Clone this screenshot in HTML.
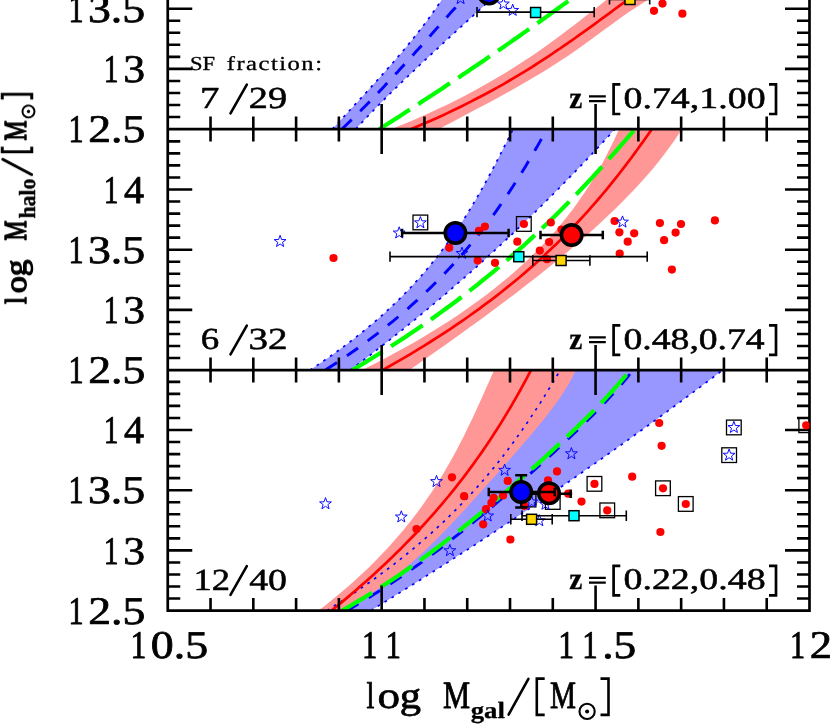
<!DOCTYPE html>
<html><head><meta charset="utf-8"><title>Halo mass vs galaxy mass</title>
<style>html,body{margin:0;padding:0;background:#fff;}body{width:831px;height:725px;overflow:hidden;font-family:"Liberation Serif",serif;}svg{display:block;}</style>
</head><body>
<svg width="831" height="725" viewBox="0 0 831 725">
<rect width="831" height="725" fill="#fff"/>
<defs>
<clipPath id="c0"><rect x="167.75" y="-5" width="641.75" height="134.10"/></clipPath>
<clipPath id="c1"><rect x="167.75" y="129.10" width="641.75" height="241.00"/></clipPath>
<clipPath id="c2"><rect x="167.75" y="370.10" width="641.75" height="240.50"/></clipPath>
</defs>
<g clip-path="url(#c0)">
<path d="M445.4,-6.0 L443.2,-2.5 L441.0,0.9 L438.6,4.4 L436.3,7.9 L433.9,11.3 L431.4,14.8 L428.9,18.2 L426.3,21.7 L423.7,25.2 L421.0,28.6 L418.3,32.1 L415.6,35.6 L412.8,39.0 L410.0,42.5 L407.1,46.0 L404.2,49.4 L401.3,52.9 L398.3,56.4 L395.4,59.8 L392.3,63.3 L389.3,66.7 L386.2,70.2 L383.2,73.7 L380.1,77.1 L377.0,80.6 L373.8,84.1 L370.7,87.5 L367.5,91.0 L364.3,94.5 L361.2,97.9 L358.0,101.4 L354.8,104.9 L351.6,108.3 L348.4,111.8 L345.2,115.2 L342.0,118.7 L338.8,122.2 L335.6,125.6 L332.4,129.1 L355.8,129.1 L359.0,125.6 L362.2,122.2 L365.5,118.7 L368.8,115.2 L372.1,111.8 L375.5,108.3 L378.8,104.9 L382.3,101.4 L385.7,97.9 L389.2,94.5 L392.7,91.0 L396.3,87.5 L399.8,84.1 L403.4,80.6 L407.0,77.1 L410.7,73.7 L414.3,70.2 L418.0,66.7 L421.6,63.3 L425.3,59.8 L429.1,56.4 L432.8,52.9 L436.5,49.4 L440.2,46.0 L444.0,42.5 L447.7,39.0 L451.5,35.6 L455.3,32.1 L459.0,28.6 L462.8,25.2 L466.6,21.7 L470.3,18.2 L474.1,14.8 L477.9,11.3 L481.6,7.9 L485.4,4.4 L489.1,0.9 L492.8,-2.5 L496.5,-6.0Z" fill="#9797ff"/>
<path d="M613.7,-6.0 L609.3,-2.5 L605.0,0.9 L600.6,4.4 L596.2,7.9 L591.8,11.3 L587.4,14.8 L583.0,18.2 L578.5,21.7 L574.0,25.2 L569.5,28.6 L564.9,32.1 L560.3,35.6 L555.6,39.0 L550.8,42.5 L546.0,46.0 L541.1,49.4 L536.1,52.9 L531.0,56.4 L525.8,59.8 L520.5,63.3 L515.1,66.7 L509.6,70.2 L504.0,73.7 L498.2,77.1 L492.3,80.6 L486.2,84.1 L480.0,87.5 L473.7,91.0 L467.2,94.5 L460.5,97.9 L453.6,101.4 L446.6,104.9 L439.3,108.3 L431.9,111.8 L424.3,115.2 L416.4,118.7 L408.4,122.2 L400.1,125.6 L391.6,129.1 L439.1,129.1 L445.5,125.6 L451.9,122.2 L458.4,118.7 L464.9,115.2 L471.5,111.8 L478.0,108.3 L484.5,104.9 L491.0,101.4 L497.5,97.9 L503.8,94.5 L510.1,91.0 L516.3,87.5 L522.4,84.1 L528.4,80.6 L534.3,77.1 L540.0,73.7 L545.7,70.2 L551.2,66.7 L556.6,63.3 L561.9,59.8 L567.1,56.4 L572.2,52.9 L577.2,49.4 L582.1,46.0 L586.9,42.5 L591.7,39.0 L596.4,35.6 L601.2,32.1 L605.9,28.6 L610.6,25.2 L615.3,21.7 L620.1,18.2 L625.0,14.8 L630.0,11.3 L635.2,7.9 L640.5,4.4 L646.0,0.9 L651.7,-2.5 L657.7,-6.0Z" fill="#ff9797"/>
<path d="M332.4,129.1 L334.5,126.8 L336.6,124.5 L338.7,122.2 L340.9,119.9 L343.0,117.7 L345.1,115.4 L347.2,113.1 L349.3,110.8 L351.4,108.5 L353.5,106.2 L355.6,103.9 L357.8,101.6 L359.9,99.3 L362.0,97.0 L364.1,94.8 L366.2,92.5 L368.3,90.2 L370.4,87.9 L372.4,85.6 L374.5,83.3 L376.6,81.0 L378.6,78.7 L380.7,76.4 L382.8,74.1 L384.8,71.9 L386.8,69.6 L388.8,67.3 L390.9,65.0 L392.9,62.7 L394.8,60.4 L396.8,58.1 L398.8,55.8 L400.7,53.5 L402.7,51.2 L404.6,49.0 L406.5,46.7 L408.4,44.4 L410.3,42.1 L412.2,39.8 L414.0,37.5 L415.8,35.2 L417.7,32.9 L419.5,30.6 L421.2,28.3 L423.0,26.1 L424.7,23.8 L426.5,21.5 L428.2,19.2 L429.8,16.9 L431.5,14.6 L433.1,12.3 L434.8,10.0 L436.4,7.7 L437.9,5.4 L439.5,3.2 L441.0,0.9 L442.5,-1.4 L444.0,-3.7 L445.4,-6.0" fill="none" stroke="#0000ff" stroke-width="1.7" stroke-dasharray="2.7 5.4" stroke-dashoffset="0" stroke-linecap="butt"/>
<path d="M355.8,129.1 L357.9,126.8 L360.0,124.5 L362.2,122.2 L364.3,119.9 L366.5,117.7 L368.6,115.4 L370.8,113.1 L373.1,110.8 L375.3,108.5 L377.5,106.2 L379.8,103.9 L382.0,101.6 L384.3,99.3 L386.6,97.0 L388.9,94.8 L391.2,92.5 L393.6,90.2 L395.9,87.9 L398.3,85.6 L400.6,83.3 L403.0,81.0 L405.4,78.7 L407.8,76.4 L410.2,74.1 L412.6,71.9 L415.0,69.6 L417.4,67.3 L419.8,65.0 L422.3,62.7 L424.7,60.4 L427.2,58.1 L429.6,55.8 L432.1,53.5 L434.5,51.2 L437.0,49.0 L439.5,46.7 L442.0,44.4 L444.4,42.1 L446.9,39.8 L449.4,37.5 L451.9,35.2 L454.4,32.9 L456.9,30.6 L459.4,28.3 L461.8,26.1 L464.3,23.8 L466.8,21.5 L469.3,19.2 L471.8,16.9 L474.3,14.6 L476.8,12.3 L479.3,10.0 L481.7,7.7 L484.2,5.4 L486.7,3.2 L489.2,0.9 L491.6,-1.4 L494.1,-3.7 L496.5,-6.0" fill="none" stroke="#0000ff" stroke-width="1.7" stroke-dasharray="2.7 5.4" stroke-dashoffset="0" stroke-linecap="butt"/>
<path d="M341.9,129.1 L344.3,126.8 L346.7,124.5 L349.0,122.2 L351.4,119.9 L353.7,117.7 L356.0,115.4 L358.3,113.1 L360.6,110.8 L362.8,108.5 L365.1,106.2 L367.3,103.9 L369.6,101.6 L371.8,99.3 L374.0,97.0 L376.2,94.8 L378.4,92.5 L380.5,90.2 L382.7,87.9 L384.9,85.6 L387.0,83.3 L389.2,81.0 L391.3,78.7 L393.4,76.4 L395.5,74.1 L397.6,71.9 L399.7,69.6 L401.8,67.3 L403.9,65.0 L406.0,62.7 L408.1,60.4 L410.2,58.1 L412.2,55.8 L414.3,53.5 L416.3,51.2 L418.4,49.0 L420.5,46.7 L422.5,44.4 L424.6,42.1 L426.6,39.8 L428.6,37.5 L430.7,35.2 L432.7,32.9 L434.8,30.6 L436.8,28.3 L438.9,26.1 L440.9,23.8 L443.0,21.5 L445.0,19.2 L447.0,16.9 L449.1,14.6 L451.1,12.3 L453.2,10.0 L455.3,7.7 L457.3,5.4 L459.4,3.2 L461.4,0.9 L463.5,-1.4 L465.6,-3.7 L467.7,-6.0" fill="none" stroke="#0000ff" stroke-width="2.9" stroke-dasharray="13.5 12" stroke-dashoffset="25.4" stroke-linecap="butt"/>
<path d="M379.4,129.1 L383.0,126.8 L386.6,124.5 L390.2,122.2 L393.7,119.9 L397.3,117.7 L400.9,115.4 L404.4,113.1 L408.0,110.8 L411.5,108.5 L415.0,106.2 L418.6,103.9 L422.1,101.6 L425.6,99.3 L429.1,97.0 L432.6,94.8 L436.0,92.5 L439.5,90.2 L443.0,87.9 L446.4,85.6 L449.9,83.3 L453.3,81.0 L456.7,78.7 L460.2,76.4 L463.6,74.1 L467.0,71.9 L470.4,69.6 L473.8,67.3 L477.2,65.0 L480.5,62.7 L483.9,60.4 L487.2,58.1 L490.6,55.8 L493.9,53.5 L497.3,51.2 L500.6,49.0 L503.9,46.7 L507.2,44.4 L510.5,42.1 L513.8,39.8 L517.1,37.5 L520.4,35.2 L523.6,32.9 L526.9,30.6 L530.1,28.3 L533.4,26.1 L536.6,23.8 L539.8,21.5 L543.0,19.2 L546.3,16.9 L549.5,14.6 L552.6,12.3 L555.8,10.0 L559.0,7.7 L562.2,5.4 L565.3,3.2 L568.5,0.9 L571.6,-1.4 L574.8,-3.7 L577.9,-6.0" fill="none" stroke="#00ff00" stroke-width="4.2" stroke-dasharray="38 10" stroke-dashoffset="1.8" stroke-linecap="butt"/>
<path d="M411.1,129.1 L416.6,126.8 L421.9,124.5 L427.2,122.2 L432.4,119.9 L437.5,117.7 L442.5,115.4 L447.4,113.1 L452.2,110.8 L457.0,108.5 L461.7,106.2 L466.3,103.9 L470.8,101.6 L475.3,99.3 L479.7,97.0 L484.1,94.8 L488.3,92.5 L492.5,90.2 L496.7,87.9 L500.8,85.6 L504.8,83.3 L508.7,81.0 L512.7,78.7 L516.5,76.4 L520.3,74.1 L524.1,71.9 L527.8,69.6 L531.5,67.3 L535.1,65.0 L538.7,62.7 L542.2,60.4 L545.7,58.1 L549.2,55.8 L552.6,53.5 L556.0,51.2 L559.4,49.0 L562.7,46.7 L566.0,44.4 L569.3,42.1 L572.6,39.8 L575.8,37.5 L579.1,35.2 L582.3,32.9 L585.5,30.6 L588.6,28.3 L591.8,26.1 L594.9,23.8 L598.1,21.5 L601.2,19.2 L604.4,16.9 L607.5,14.6 L610.6,12.3 L613.7,10.0 L616.9,7.7 L620.0,5.4 L623.1,3.2 L626.3,0.9 L629.4,-1.4 L632.6,-3.7 L635.8,-6.0" fill="none" stroke="#ff0000" stroke-width="2.7" stroke-linecap="butt"/>
</g>
<g clip-path="url(#c1)">
<path d="M513.1,129.1 L510.0,135.3 L506.9,141.5 L503.8,147.6 L500.6,153.8 L497.5,160.0 L494.3,166.2 L491.0,172.4 L487.7,178.5 L484.3,184.7 L480.8,190.9 L477.3,197.1 L473.7,203.3 L469.9,209.4 L466.1,215.6 L462.1,221.8 L458.1,228.0 L453.8,234.2 L449.5,240.3 L445.0,246.5 L440.3,252.7 L435.5,258.9 L430.5,265.0 L425.3,271.2 L419.9,277.4 L414.3,283.6 L408.5,289.8 L402.4,295.9 L396.2,302.1 L389.7,308.3 L383.0,314.5 L376.0,320.7 L368.7,326.8 L361.2,333.0 L353.4,339.2 L345.3,345.4 L336.9,351.6 L328.2,357.7 L319.2,363.9 L309.9,370.1 L350.2,370.1 L358.5,363.9 L366.6,357.7 L374.7,351.6 L382.6,345.4 L390.5,339.2 L398.3,333.0 L406.0,326.8 L413.6,320.7 L421.1,314.5 L428.6,308.3 L435.9,302.1 L443.2,295.9 L450.4,289.8 L457.6,283.6 L464.6,277.4 L471.6,271.2 L478.5,265.0 L485.4,258.9 L492.2,252.7 L498.9,246.5 L505.5,240.3 L512.1,234.2 L518.6,228.0 L525.0,221.8 L531.4,215.6 L537.7,209.4 L544.0,203.3 L550.2,197.1 L556.3,190.9 L562.4,184.7 L568.5,178.5 L574.5,172.4 L580.4,166.2 L586.3,160.0 L592.1,153.8 L597.9,147.6 L603.6,141.5 L609.3,135.3 L614.9,129.1Z" fill="#9797ff"/>
<path d="M619.1,129.1 L616.3,135.3 L613.4,141.5 L610.4,147.6 L607.3,153.8 L604.1,160.0 L600.7,166.2 L597.2,172.4 L593.5,178.5 L589.7,184.7 L585.7,190.9 L581.5,197.1 L577.2,203.3 L572.7,209.4 L568.0,215.6 L563.0,221.8 L557.9,228.0 L552.5,234.2 L546.9,240.3 L541.1,246.5 L535.0,252.7 L528.7,258.9 L522.1,265.0 L515.2,271.2 L508.0,277.4 L500.6,283.6 L492.9,289.8 L484.8,295.9 L476.5,302.1 L467.8,308.3 L458.9,314.5 L449.5,320.7 L439.9,326.8 L429.8,333.0 L419.5,339.2 L408.7,345.4 L397.6,351.6 L386.1,357.7 L374.2,363.9 L361.9,370.1 L409.2,370.1 L418.1,363.9 L426.9,357.7 L435.8,351.6 L444.5,345.4 L453.2,339.2 L461.9,333.0 L470.4,326.8 L478.9,320.7 L487.4,314.5 L495.7,308.3 L504.0,302.1 L512.2,295.9 L520.3,289.8 L528.2,283.6 L536.1,277.4 L543.9,271.2 L551.6,265.0 L559.1,258.9 L566.5,252.7 L573.8,246.5 L581.0,240.3 L588.0,234.2 L594.9,228.0 L601.6,221.8 L608.2,215.6 L614.6,209.4 L620.9,203.3 L627.0,197.1 L632.9,190.9 L638.7,184.7 L644.3,178.5 L649.7,172.4 L654.9,166.2 L659.9,160.0 L664.7,153.8 L669.3,147.6 L673.7,141.5 L677.9,135.3 L681.9,129.1Z" fill="#ff9797"/>
<path d="M309.9,370.1 L316.1,366.0 L322.2,361.9 L328.1,357.8 L333.9,353.8 L339.5,349.7 L345.0,345.6 L350.4,341.5 L355.7,337.4 L360.8,333.3 L365.8,329.3 L370.7,325.2 L375.5,321.1 L380.2,317.0 L384.7,312.9 L389.1,308.8 L393.5,304.7 L397.7,300.7 L401.8,296.6 L405.8,292.5 L409.8,288.4 L413.6,284.3 L417.3,280.2 L421.0,276.2 L424.5,272.1 L428.0,268.0 L431.4,263.9 L434.7,259.8 L438.0,255.7 L441.1,251.6 L444.2,247.6 L447.2,243.5 L450.2,239.4 L453.0,235.3 L455.9,231.2 L458.6,227.1 L461.3,223.0 L464.0,219.0 L466.6,214.9 L469.1,210.8 L471.6,206.7 L474.0,202.6 L476.4,198.5 L478.8,194.5 L481.1,190.4 L483.4,186.3 L485.7,182.2 L487.9,178.1 L490.1,174.0 L492.3,169.9 L494.4,165.9 L496.5,161.8 L498.6,157.7 L500.7,153.6 L502.8,149.5 L504.9,145.4 L506.9,141.4 L509.0,137.3 L511.0,133.2 L513.1,129.1" fill="none" stroke="#0000ff" stroke-width="1.7" stroke-dasharray="2.7 5.4" stroke-dashoffset="0" stroke-linecap="butt"/>
<path d="M350.2,370.1 L355.7,366.0 L361.1,361.9 L366.5,357.8 L371.8,353.8 L377.1,349.7 L382.3,345.6 L387.6,341.5 L392.7,337.4 L397.9,333.3 L403.0,329.3 L408.0,325.2 L413.1,321.1 L418.1,317.0 L423.0,312.9 L427.9,308.8 L432.8,304.7 L437.7,300.7 L442.5,296.6 L447.3,292.5 L452.0,288.4 L456.7,284.3 L461.4,280.2 L466.1,276.2 L470.7,272.1 L475.3,268.0 L479.8,263.9 L484.3,259.8 L488.8,255.7 L493.3,251.6 L497.7,247.6 L502.1,243.5 L506.5,239.4 L510.9,235.3 L515.2,231.2 L519.5,227.1 L523.7,223.0 L528.0,219.0 L532.2,214.9 L536.3,210.8 L540.5,206.7 L544.6,202.6 L548.7,198.5 L552.8,194.5 L556.9,190.4 L560.9,186.3 L564.9,182.2 L568.9,178.1 L572.8,174.0 L576.8,169.9 L580.7,165.9 L584.6,161.8 L588.4,157.7 L592.3,153.6 L596.1,149.5 L599.9,145.4 L603.7,141.4 L607.5,137.3 L611.2,133.2 L614.9,129.1" fill="none" stroke="#0000ff" stroke-width="1.7" stroke-dasharray="2.7 5.4" stroke-dashoffset="0" stroke-linecap="butt"/>
<path d="M325.3,370.1 L331.6,366.0 L337.8,361.9 L343.8,357.8 L349.8,353.8 L355.6,349.7 L361.3,345.6 L366.9,341.5 L372.3,337.4 L377.7,333.3 L382.9,329.3 L388.0,325.2 L393.1,321.1 L398.0,317.0 L402.8,312.9 L407.6,308.8 L412.2,304.7 L416.7,300.7 L421.2,296.6 L425.5,292.5 L429.8,288.4 L434.0,284.3 L438.1,280.2 L442.1,276.2 L446.0,272.1 L449.8,268.0 L453.6,263.9 L457.3,259.8 L460.9,255.7 L464.5,251.6 L467.9,247.6 L471.3,243.5 L474.7,239.4 L478.0,235.3 L481.2,231.2 L484.3,227.1 L487.4,223.0 L490.5,219.0 L493.5,214.9 L496.4,210.8 L499.3,206.7 L502.1,202.6 L504.9,198.5 L507.6,194.5 L510.3,190.4 L513.0,186.3 L515.6,182.2 L518.2,178.1 L520.8,174.0 L523.3,169.9 L525.8,165.9 L528.2,161.8 L530.7,157.7 L533.1,153.6 L535.4,149.5 L537.8,145.4 L540.1,141.4 L542.5,137.3 L544.8,133.2 L547.1,129.1" fill="none" stroke="#0000ff" stroke-width="2.9" stroke-dasharray="13.5 12" stroke-dashoffset="25.0" stroke-linecap="butt"/>
<path d="M352.3,370.1 L359.2,366.0 L366.0,361.9 L372.6,357.8 L379.2,353.8 L385.7,349.7 L392.1,345.6 L398.4,341.5 L404.6,337.4 L410.8,333.3 L416.8,329.3 L422.8,325.2 L428.6,321.1 L434.4,317.0 L440.1,312.9 L445.7,308.8 L451.3,304.7 L456.7,300.7 L462.1,296.6 L467.4,292.5 L472.7,288.4 L477.8,284.3 L482.9,280.2 L488.0,276.2 L492.9,272.1 L497.8,268.0 L502.6,263.9 L507.4,259.8 L512.1,255.7 L516.7,251.6 L521.3,247.6 L525.9,243.5 L530.3,239.4 L534.7,235.3 L539.1,231.2 L543.4,227.1 L547.7,223.0 L551.9,219.0 L556.0,214.9 L560.2,210.8 L564.2,206.7 L568.3,202.6 L572.2,198.5 L576.2,194.5 L580.1,190.4 L584.0,186.3 L587.8,182.2 L591.6,178.1 L595.4,174.0 L599.1,169.9 L602.8,165.9 L606.5,161.8 L610.1,157.7 L613.8,153.6 L617.4,149.5 L620.9,145.4 L624.5,141.4 L628.0,137.3 L631.5,133.2 L635.0,129.1" fill="none" stroke="#00ff00" stroke-width="4.2" stroke-dasharray="38 10" stroke-dashoffset="2.5" stroke-linecap="butt"/>
<path d="M382.5,370.1 L389.8,366.0 L397.0,361.9 L404.0,357.8 L410.9,353.8 L417.7,349.7 L424.4,345.6 L430.9,341.5 L437.3,337.4 L443.6,333.3 L449.8,329.3 L455.9,325.2 L461.9,321.1 L467.8,317.0 L473.5,312.9 L479.2,308.8 L484.7,304.7 L490.2,300.7 L495.5,296.6 L500.8,292.5 L505.9,288.4 L511.0,284.3 L516.0,280.2 L520.8,276.2 L525.6,272.1 L530.3,268.0 L535.0,263.9 L539.5,259.8 L544.0,255.7 L548.3,251.6 L552.6,247.6 L556.9,243.5 L561.0,239.4 L565.1,235.3 L569.1,231.2 L573.1,227.1 L576.9,223.0 L580.7,219.0 L584.5,214.9 L588.2,210.8 L591.8,206.7 L595.4,202.6 L598.9,198.5 L602.3,194.5 L605.8,190.4 L609.1,186.3 L612.4,182.2 L615.7,178.1 L618.9,174.0 L622.1,169.9 L625.2,165.9 L628.3,161.8 L631.4,157.7 L634.4,153.6 L637.4,149.5 L640.3,145.4 L643.3,141.4 L646.2,137.3 L649.0,133.2 L651.9,129.1" fill="none" stroke="#ff0000" stroke-width="2.7" stroke-linecap="butt"/>
</g>
<g clip-path="url(#c2)">
<path d="M560.2,370.1 L556.6,376.3 L552.9,382.4 L549.1,388.6 L545.3,394.8 L541.5,400.9 L537.5,407.1 L533.5,413.3 L529.4,419.4 L525.2,425.6 L521.0,431.8 L516.6,437.9 L512.1,444.1 L507.5,450.3 L502.7,456.4 L497.9,462.6 L492.9,468.8 L487.8,474.9 L482.5,481.1 L477.0,487.3 L471.5,493.4 L465.7,499.6 L459.8,505.8 L453.7,511.9 L447.4,518.1 L440.9,524.3 L434.3,530.4 L427.4,536.6 L420.3,542.8 L413.0,548.9 L405.5,555.1 L397.8,561.3 L389.8,567.4 L381.6,573.6 L373.1,579.8 L364.4,585.9 L355.4,592.1 L346.2,598.3 L336.7,604.4 L326.9,610.6 L370.8,610.6 L380.8,604.4 L390.8,598.3 L400.7,592.1 L410.6,585.9 L420.4,579.8 L430.1,573.6 L439.8,567.4 L449.4,561.3 L459.0,555.1 L468.5,548.9 L478.0,542.8 L487.4,536.6 L496.7,530.4 L506.0,524.3 L515.2,518.1 L524.4,511.9 L533.6,505.8 L542.7,499.6 L551.7,493.4 L560.7,487.3 L569.6,481.1 L578.5,474.9 L587.3,468.8 L596.1,462.6 L604.9,456.4 L613.6,450.3 L622.2,444.1 L630.8,437.9 L639.4,431.8 L647.9,425.6 L656.4,419.4 L664.8,413.3 L673.2,407.1 L681.5,400.9 L689.8,394.8 L698.1,388.6 L706.3,382.4 L714.5,376.3 L722.6,370.1Z" fill="#9797ff"/>
<path d="M494.2,370.1 L491.4,376.3 L488.7,382.4 L485.9,388.6 L483.2,394.8 L480.4,400.9 L477.6,407.1 L474.8,413.3 L471.9,419.4 L468.9,425.6 L465.9,431.8 L462.9,437.9 L459.7,444.1 L456.5,450.3 L453.1,456.4 L449.7,462.6 L446.1,468.8 L442.5,474.9 L438.7,481.1 L434.8,487.3 L430.7,493.4 L426.5,499.6 L422.2,505.8 L417.6,511.9 L413.0,518.1 L408.1,524.3 L403.1,530.4 L397.8,536.6 L392.4,542.8 L386.8,548.9 L381.0,555.1 L375.0,561.3 L368.8,567.4 L362.3,573.6 L355.6,579.8 L348.7,585.9 L341.5,592.1 L334.1,598.3 L326.5,604.4 L318.6,610.6 L343.7,610.6 L354.3,604.4 L364.2,598.3 L373.5,592.1 L382.3,585.9 L390.6,579.8 L398.5,573.6 L406.0,567.4 L413.1,561.3 L420.0,555.1 L426.6,548.9 L433.0,542.8 L439.2,536.6 L445.2,530.4 L451.1,524.3 L456.9,518.1 L462.6,511.9 L468.3,505.8 L473.8,499.6 L479.4,493.4 L484.9,487.3 L490.4,481.1 L495.9,474.9 L501.4,468.8 L506.9,462.6 L512.3,456.4 L517.7,450.3 L523.0,444.1 L528.3,437.9 L533.6,431.8 L538.7,425.6 L543.7,419.4 L548.6,413.3 L553.2,407.1 L557.7,400.9 L562.0,394.8 L566.0,388.6 L569.6,382.4 L572.9,376.3 L575.8,370.1Z" fill="#ff9797"/>
<path d="M326.9,610.6 L333.4,606.5 L339.8,602.4 L346.0,598.4 L352.2,594.3 L358.2,590.2 L364.1,586.1 L369.9,582.1 L375.6,578.0 L381.1,573.9 L386.6,569.8 L392.0,565.8 L397.2,561.7 L402.4,557.6 L407.4,553.5 L412.4,549.5 L417.2,545.4 L422.0,541.3 L426.7,537.2 L431.3,533.2 L435.7,529.1 L440.1,525.0 L444.5,520.9 L448.7,516.8 L452.8,512.8 L456.9,508.7 L460.9,504.6 L464.8,500.5 L468.7,496.5 L472.4,492.4 L476.1,488.3 L479.7,484.2 L483.3,480.2 L486.8,476.1 L490.2,472.0 L493.6,467.9 L496.9,463.9 L500.1,459.8 L503.3,455.7 L506.4,451.6 L509.5,447.5 L512.5,443.5 L515.5,439.4 L518.4,435.3 L521.3,431.2 L524.2,427.2 L527.0,423.1 L529.7,419.0 L532.4,414.9 L535.1,410.9 L537.7,406.8 L540.4,402.7 L542.9,398.6 L545.5,394.6 L548.0,390.5 L550.5,386.4 L552.9,382.3 L555.4,378.3 L557.8,374.2 L560.2,370.1" fill="none" stroke="#0000ff" stroke-width="1.7" stroke-dasharray="2.7 5.4" stroke-dashoffset="0" stroke-linecap="butt"/>
<path d="M370.8,610.6 L377.4,606.5 L384.0,602.4 L390.6,598.4 L397.2,594.3 L403.7,590.2 L410.2,586.1 L416.7,582.1 L423.2,578.0 L429.6,573.9 L436.0,569.8 L442.4,565.8 L448.8,561.7 L455.1,557.6 L461.4,553.5 L467.7,549.5 L474.0,545.4 L480.2,541.3 L486.4,537.2 L492.6,533.2 L498.8,529.1 L504.9,525.0 L511.0,520.9 L517.1,516.8 L523.2,512.8 L529.2,508.7 L535.3,504.6 L541.3,500.5 L547.3,496.5 L553.2,492.4 L559.2,488.3 L565.1,484.2 L571.0,480.2 L576.8,476.1 L582.7,472.0 L588.5,467.9 L594.3,463.9 L600.1,459.8 L605.9,455.7 L611.6,451.6 L617.4,447.5 L623.1,443.5 L628.8,439.4 L634.4,435.3 L640.1,431.2 L645.7,427.2 L651.3,423.1 L656.9,419.0 L662.5,414.9 L668.0,410.9 L673.6,406.8 L679.1,402.7 L684.6,398.6 L690.1,394.6 L695.5,390.5 L701.0,386.4 L706.4,382.3 L711.8,378.3 L717.2,374.2 L722.6,370.1" fill="none" stroke="#0000ff" stroke-width="1.7" stroke-dasharray="2.7 5.4" stroke-dashoffset="0" stroke-linecap="butt"/>
<path d="M346.9,610.6 L354.0,606.5 L360.8,602.4 L367.6,598.4 L374.1,594.3 L380.6,590.2 L386.9,586.1 L393.1,582.1 L399.1,578.0 L405.1,573.9 L410.9,569.8 L416.7,565.8 L422.4,561.7 L427.9,557.6 L433.4,553.5 L438.9,549.5 L444.2,545.4 L449.5,541.3 L454.7,537.2 L459.9,533.2 L465.0,529.1 L470.0,525.0 L475.0,520.9 L480.0,516.8 L484.9,512.8 L489.8,508.7 L494.6,504.6 L499.4,500.5 L504.2,496.5 L508.9,492.4 L513.6,488.3 L518.3,484.2 L523.0,480.2 L527.6,476.1 L532.2,472.0 L536.7,467.9 L541.2,463.9 L545.7,459.8 L550.2,455.7 L554.6,451.6 L559.0,447.5 L563.4,443.5 L567.7,439.4 L572.0,435.3 L576.3,431.2 L580.5,427.2 L584.7,423.1 L588.8,419.0 L592.9,414.9 L596.9,410.9 L600.8,406.8 L604.7,402.7 L608.6,398.6 L612.3,394.6 L616.0,390.5 L619.6,386.4 L623.1,382.3 L626.5,378.3 L629.9,374.2 L633.1,370.1" fill="none" stroke="#0000ff" stroke-width="2.9" stroke-dasharray="13.5 12" stroke-dashoffset="0.2" stroke-linecap="butt"/>
<path d="M342.1,610.6 L349.2,606.5 L356.1,602.4 L362.9,598.4 L369.6,594.3 L376.1,590.2 L382.5,586.1 L388.7,582.1 L394.8,578.0 L400.8,573.9 L406.7,569.8 L412.5,565.8 L418.3,561.7 L423.9,557.6 L429.4,553.5 L434.9,549.5 L440.3,545.4 L445.6,541.3 L450.8,537.2 L456.0,533.2 L461.1,529.1 L466.2,525.0 L471.2,520.9 L476.2,516.8 L481.2,512.8 L486.1,508.7 L490.9,504.6 L495.7,500.5 L500.5,496.5 L505.3,492.4 L510.0,488.3 L514.7,484.2 L519.3,480.2 L523.9,476.1 L528.5,472.0 L533.1,467.9 L537.7,463.9 L542.2,459.8 L546.6,455.7 L551.1,451.6 L555.5,447.5 L559.9,443.5 L564.2,439.4 L568.5,435.3 L572.8,431.2 L577.1,427.2 L581.2,423.1 L585.4,419.0 L589.5,414.9 L593.5,410.9 L597.5,406.8 L601.4,402.7 L605.3,398.6 L609.0,394.6 L612.8,390.5 L616.4,386.4 L619.9,382.3 L623.4,378.3 L626.8,374.2 L630.0,370.1" fill="none" stroke="#00ff00" stroke-width="4.2" stroke-dasharray="38 10" stroke-dashoffset="3.1" stroke-linecap="butt"/>
<path d="M331.5,610.6 L336.5,606.5 L341.5,602.4 L346.4,598.4 L351.2,594.3 L355.9,590.2 L360.6,586.1 L365.3,582.1 L369.8,578.0 L374.3,573.9 L378.7,569.8 L383.1,565.8 L387.4,561.7 L391.7,557.6 L395.8,553.5 L400.0,549.5 L404.0,545.4 L408.0,541.3 L412.0,537.2 L415.9,533.2 L419.7,529.1 L423.5,525.0 L427.2,520.9 L430.8,516.8 L434.4,512.8 L438.0,508.7 L441.5,504.6 L444.9,500.5 L448.3,496.5 L451.6,492.4 L454.9,488.3 L458.1,484.2 L461.3,480.2 L464.4,476.1 L467.5,472.0 L470.5,467.9 L473.5,463.9 L476.4,459.8 L479.3,455.7 L482.2,451.6 L485.0,447.5 L487.7,443.5 L490.4,439.4 L493.1,435.3 L495.7,431.2 L498.3,427.2 L500.9,423.1 L503.4,419.0 L505.9,414.9 L508.3,410.9 L510.8,406.8 L513.1,402.7 L515.5,398.6 L517.8,394.6 L520.1,390.5 L522.3,386.4 L524.5,382.3 L526.7,378.3 L528.9,374.2 L531.0,370.1" fill="none" stroke="#ff0000" stroke-width="2.7" stroke-linecap="butt"/>
</g>
<g stroke="#000" stroke-width="2.7" fill="none" stroke-linecap="butt">
<path d="M167.75,-5 V610.60 H809.50 V-5" stroke-linejoin="miter"/>
<path d="M167.75,129.10 H809.50 M167.75,370.10 H809.50"/>
<path d="M210.53,116.60 V141.60 M210.53,357.60 V382.60 M210.53,598.10 V610.60 M253.32,116.60 V141.60 M253.32,357.60 V382.60 M253.32,598.10 V610.60 M296.10,116.60 V141.60 M296.10,357.60 V382.60 M296.10,598.10 V610.60 M338.88,116.60 V141.60 M338.88,357.60 V382.60 M338.88,598.10 V610.60 M381.67,104.10 V154.10 M381.67,345.10 V395.10 M381.67,585.60 V610.60 M424.45,116.60 V141.60 M424.45,357.60 V382.60 M424.45,598.10 V610.60 M467.23,116.60 V141.60 M467.23,357.60 V382.60 M467.23,598.10 V610.60 M510.02,116.60 V141.60 M510.02,357.60 V382.60 M510.02,598.10 V610.60 M552.80,116.60 V141.60 M552.80,357.60 V382.60 M552.80,598.10 V610.60 M595.58,104.10 V154.10 M595.58,345.10 V395.10 M595.58,585.60 V610.60 M638.37,116.60 V141.60 M638.37,357.60 V382.60 M638.37,598.10 V610.60 M681.15,116.60 V141.60 M681.15,357.60 V382.60 M681.15,598.10 V610.60 M723.93,116.60 V141.60 M723.93,357.60 V382.60 M723.93,598.10 V610.60 M766.72,116.60 V141.60 M766.72,357.60 V382.60 M766.72,598.10 V610.60 M167.75,117.06 H180.25 M809.50,117.06 H797.00 M167.75,105.02 H180.25 M809.50,105.02 H797.00 M167.75,92.98 H180.25 M809.50,92.98 H797.00 M167.75,80.94 H180.25 M809.50,80.94 H797.00 M167.75,68.90 H192.25 M809.50,68.90 H785.00 M167.75,56.86 H180.25 M809.50,56.86 H797.00 M167.75,44.82 H180.25 M809.50,44.82 H797.00 M167.75,32.78 H180.25 M809.50,32.78 H797.00 M167.75,20.74 H180.25 M809.50,20.74 H797.00 M167.75,8.70 H192.25 M809.50,8.70 H785.00 M167.75,-3.34 H180.25 M809.50,-3.34 H797.00 M167.75,358.06 H180.25 M809.50,358.06 H797.00 M167.75,346.02 H180.25 M809.50,346.02 H797.00 M167.75,333.98 H180.25 M809.50,333.98 H797.00 M167.75,321.94 H180.25 M809.50,321.94 H797.00 M167.75,309.90 H192.25 M809.50,309.90 H785.00 M167.75,297.86 H180.25 M809.50,297.86 H797.00 M167.75,285.82 H180.25 M809.50,285.82 H797.00 M167.75,273.78 H180.25 M809.50,273.78 H797.00 M167.75,261.74 H180.25 M809.50,261.74 H797.00 M167.75,249.70 H192.25 M809.50,249.70 H785.00 M167.75,237.66 H180.25 M809.50,237.66 H797.00 M167.75,225.62 H180.25 M809.50,225.62 H797.00 M167.75,213.58 H180.25 M809.50,213.58 H797.00 M167.75,201.54 H180.25 M809.50,201.54 H797.00 M167.75,189.50 H192.25 M809.50,189.50 H785.00 M167.75,177.46 H180.25 M809.50,177.46 H797.00 M167.75,165.42 H180.25 M809.50,165.42 H797.00 M167.75,153.38 H180.25 M809.50,153.38 H797.00 M167.75,141.34 H180.25 M809.50,141.34 H797.00 M167.75,598.56 H180.25 M809.50,598.56 H797.00 M167.75,586.52 H180.25 M809.50,586.52 H797.00 M167.75,574.48 H180.25 M809.50,574.48 H797.00 M167.75,562.44 H180.25 M809.50,562.44 H797.00 M167.75,550.40 H192.25 M809.50,550.40 H785.00 M167.75,538.36 H180.25 M809.50,538.36 H797.00 M167.75,526.32 H180.25 M809.50,526.32 H797.00 M167.75,514.28 H180.25 M809.50,514.28 H797.00 M167.75,502.24 H180.25 M809.50,502.24 H797.00 M167.75,490.20 H192.25 M809.50,490.20 H785.00 M167.75,478.16 H180.25 M809.50,478.16 H797.00 M167.75,466.12 H180.25 M809.50,466.12 H797.00 M167.75,454.08 H180.25 M809.50,454.08 H797.00 M167.75,442.04 H180.25 M809.50,442.04 H797.00 M167.75,430.00 H192.25 M809.50,430.00 H785.00 M167.75,417.96 H180.25 M809.50,417.96 H797.00 M167.75,405.92 H180.25 M809.50,405.92 H797.00 M167.75,393.88 H180.25 M809.50,393.88 H797.00 M167.75,381.84 H180.25 M809.50,381.84 H797.00" stroke-width="2.6"/>
</g>
<g clip-path="url(#c0)">
<path d="M460.6,-7.5 L462.1,-3.3 L466.5,-3.2 L463.0,-0.5 L464.2,3.7 L460.6,1.2 L457.0,3.7 L458.2,-0.5 L454.7,-3.2 L459.1,-3.3Z" fill="none" stroke="#0000ff" stroke-width="0.95" stroke-linejoin="miter"/>
<circle cx="662.5" cy="3.6" r="4.1" fill="#ff0000"/>
<circle cx="654.0" cy="10.8" r="4.1" fill="#ff0000"/>
<circle cx="682.4" cy="13.7" r="4.1" fill="#ff0000"/>
<path d="M503.4,-2.2 L504.9,2.0 L509.3,2.1 L505.8,4.8 L507.0,9.0 L503.4,6.5 L499.8,9.0 L501.0,4.8 L497.5,2.1 L501.9,2.0Z" fill="none" stroke="#0000ff" stroke-width="0.95" stroke-linejoin="miter"/>
<path d="M512.7,4.2 L514.2,8.4 L518.6,8.5 L515.1,11.2 L516.3,15.4 L512.7,12.9 L509.1,15.4 L510.3,11.2 L506.8,8.5 L511.2,8.4Z" fill="none" stroke="#0000ff" stroke-width="0.95" stroke-linejoin="miter"/>
<path d="M477.0,12.1 H594.2 M477.0,6.9 V17.3 M594.2,6.9 V17.3" stroke="#000" stroke-width="1.6" fill="none"/>
<rect x="530.6" y="7.5" width="10.0" height="10.0" fill="#00ffff" stroke="#000" stroke-width="1.5"/>
<path d="M609.5,-0.6 H649.7 M609.5,-5.8 V4.6 M649.7,-5.8 V4.6" stroke="#000" stroke-width="1.6" fill="none"/>
<rect x="625.0" y="-5.5" width="10.0" height="10.0" fill="#ffd700" stroke="#000" stroke-width="1.5"/>
<circle cx="489.0" cy="-6.5" r="10.2" fill="#0000ff" stroke="#000" stroke-width="3.6"/>
</g>
<g clip-path="url(#c1)">
<circle cx="333.5" cy="258.0" r="4.1" fill="#ff0000"/>
<circle cx="484.9" cy="226.5" r="4.1" fill="#ff0000"/>
<circle cx="478.9" cy="230.9" r="4.1" fill="#ff0000"/>
<circle cx="449.2" cy="247.8" r="4.1" fill="#ff0000"/>
<circle cx="550.8" cy="222.5" r="4.1" fill="#ff0000"/>
<circle cx="517.3" cy="241.7" r="4.1" fill="#ff0000"/>
<circle cx="549.1" cy="242.0" r="4.1" fill="#ff0000"/>
<circle cx="539.8" cy="250.6" r="4.1" fill="#ff0000"/>
<circle cx="547.0" cy="259.2" r="4.1" fill="#ff0000"/>
<circle cx="477.7" cy="260.6" r="4.1" fill="#ff0000"/>
<circle cx="495.0" cy="262.8" r="4.1" fill="#ff0000"/>
<circle cx="561.5" cy="229.5" r="4.1" fill="#ff0000"/>
<circle cx="614.6" cy="221.0" r="4.1" fill="#ff0000"/>
<circle cx="619.4" cy="232.3" r="4.1" fill="#ff0000"/>
<circle cx="634.2" cy="233.3" r="4.1" fill="#ff0000"/>
<circle cx="627.7" cy="241.7" r="4.1" fill="#ff0000"/>
<circle cx="619.7" cy="253.6" r="4.1" fill="#ff0000"/>
<circle cx="659.9" cy="223.1" r="4.1" fill="#ff0000"/>
<circle cx="681.0" cy="224.0" r="4.1" fill="#ff0000"/>
<circle cx="675.6" cy="232.6" r="4.1" fill="#ff0000"/>
<circle cx="664.1" cy="240.2" r="4.1" fill="#ff0000"/>
<circle cx="714.9" cy="220.4" r="4.1" fill="#ff0000"/>
<circle cx="671.9" cy="269.6" r="4.1" fill="#ff0000"/>
<rect x="516.5" y="216.6" width="14.7" height="14.7" fill="none" stroke="#000" stroke-width="1.3"/>
<circle cx="523.9" cy="224.0" r="4.1" fill="#ff0000"/>
<path d="M280.1,235.3 L281.6,239.5 L286.0,239.6 L282.5,242.3 L283.7,246.5 L280.1,244.0 L276.5,246.5 L277.7,242.3 L274.2,239.6 L278.6,239.5Z" fill="none" stroke="#0000ff" stroke-width="0.95" stroke-linejoin="miter"/>
<path d="M399.2,226.8 L400.7,231.0 L405.1,231.1 L401.6,233.8 L402.8,238.0 L399.2,235.5 L395.6,238.0 L396.8,233.8 L393.3,231.1 L397.7,231.0Z" fill="none" stroke="#0000ff" stroke-width="0.95" stroke-linejoin="miter"/>
<path d="M622.5,215.9 L624.0,220.1 L628.4,220.2 L624.9,222.9 L626.1,227.1 L622.5,224.6 L618.9,227.1 L620.1,222.9 L616.6,220.2 L621.0,220.1Z" fill="none" stroke="#0000ff" stroke-width="0.95" stroke-linejoin="miter"/>
<path d="M462.0,247.2 L463.5,251.4 L467.9,251.5 L464.4,254.2 L465.6,258.4 L462.0,255.9 L458.4,258.4 L459.6,254.2 L456.1,251.5 L460.5,251.4Z" fill="none" stroke="#0000ff" stroke-width="0.95" stroke-linejoin="miter"/>
<rect x="413.0" y="215.1" width="14.7" height="14.7" fill="none" stroke="#000" stroke-width="1.3"/>
<path d="M420.4,216.6 L421.9,220.8 L426.3,220.9 L422.8,223.6 L424.0,227.8 L420.4,225.3 L416.8,227.8 L418.0,223.6 L414.5,220.9 L418.9,220.8Z" fill="none" stroke="#0000ff" stroke-width="0.95" stroke-linejoin="miter"/>
<path d="M390.0,256.6 H647.2 M390.0,251.4 V261.8 M647.2,251.4 V261.8" stroke="#000" stroke-width="1.6" fill="none"/>
<path d="M532.8,260.5 H589.9 M532.8,255.3 V265.7 M589.9,255.3 V265.7" stroke="#000" stroke-width="1.6" fill="none"/>
<rect x="513.8" y="251.7" width="10.0" height="10.0" fill="#00ffff" stroke="#000" stroke-width="1.5"/>
<rect x="556.1" y="255.5" width="10.0" height="10.0" fill="#ffd700" stroke="#000" stroke-width="1.5"/>
<path d="M540.5,235.0 H602.8 M540.5,230.8 V239.2 M602.8,230.8 V239.2" stroke="#000" stroke-width="2.5" fill="none"/>
<circle cx="571.6" cy="235.1" r="10.2" fill="#ff0000" stroke="#000" stroke-width="3.6"/>
<path d="M402.1,233.0 H508.6 M402.1,228.8 V237.2 M508.6,228.8 V237.2" stroke="#000" stroke-width="2.5" fill="none"/>
<circle cx="455.4" cy="233.0" r="10.2" fill="#0000ff" stroke="#000" stroke-width="3.6"/>
</g>
<g clip-path="url(#c2)">
<circle cx="452.0" cy="477.3" r="4.1" fill="#ff0000"/>
<circle cx="464.1" cy="496.2" r="4.1" fill="#ff0000"/>
<circle cx="416.5" cy="529.0" r="4.1" fill="#ff0000"/>
<circle cx="507.7" cy="480.9" r="4.1" fill="#ff0000"/>
<circle cx="503.1" cy="495.5" r="4.1" fill="#ff0000"/>
<circle cx="493.6" cy="497.8" r="4.1" fill="#ff0000"/>
<circle cx="491.4" cy="502.9" r="4.1" fill="#ff0000"/>
<circle cx="486.0" cy="509.2" r="4.1" fill="#ff0000"/>
<circle cx="483.2" cy="524.3" r="4.1" fill="#ff0000"/>
<circle cx="510.4" cy="539.5" r="4.1" fill="#ff0000"/>
<circle cx="557.0" cy="471.4" r="4.1" fill="#ff0000"/>
<circle cx="548.0" cy="480.3" r="4.1" fill="#ff0000"/>
<circle cx="581.5" cy="501.6" r="4.1" fill="#ff0000"/>
<circle cx="568.2" cy="493.7" r="4.1" fill="#ff0000"/>
<circle cx="524.5" cy="505.8" r="4.1" fill="#ff0000"/>
<circle cx="632.2" cy="476.7" r="4.1" fill="#ff0000"/>
<circle cx="659.2" cy="423.0" r="4.1" fill="#ff0000"/>
<circle cx="661.6" cy="445.8" r="4.1" fill="#ff0000"/>
<circle cx="660.4" cy="532.0" r="4.1" fill="#ff0000"/>
<rect x="587.1" y="476.5" width="14.7" height="14.7" fill="none" stroke="#000" stroke-width="1.3"/>
<circle cx="594.5" cy="483.9" r="4.1" fill="#ff0000"/>
<rect x="599.9" y="503.0" width="14.7" height="14.7" fill="none" stroke="#000" stroke-width="1.3"/>
<circle cx="607.2" cy="510.4" r="4.1" fill="#ff0000"/>
<rect x="655.6" y="480.9" width="14.7" height="14.7" fill="none" stroke="#000" stroke-width="1.3"/>
<circle cx="663.0" cy="488.3" r="4.1" fill="#ff0000"/>
<rect x="678.4" y="496.6" width="14.7" height="14.7" fill="none" stroke="#000" stroke-width="1.3"/>
<circle cx="685.8" cy="504.0" r="4.1" fill="#ff0000"/>
<rect x="798.9" y="417.9" width="14.7" height="14.7" fill="none" stroke="#000" stroke-width="1.3"/>
<circle cx="806.2" cy="425.3" r="4.1" fill="#ff0000"/>
<rect x="726.5" y="420.1" width="14.7" height="14.7" fill="none" stroke="#000" stroke-width="1.3"/>
<path d="M733.9,421.3 L735.4,425.5 L739.8,425.6 L736.3,428.3 L737.5,432.5 L733.9,430.0 L730.3,432.5 L731.5,428.3 L728.0,425.6 L732.4,425.5Z" fill="none" stroke="#0000ff" stroke-width="0.95" stroke-linejoin="miter"/>
<rect x="721.8" y="447.8" width="14.7" height="14.7" fill="none" stroke="#000" stroke-width="1.3"/>
<path d="M729.1,449.0 L730.6,453.2 L735.0,453.3 L731.5,456.0 L732.7,460.2 L729.1,457.7 L725.5,460.2 L726.7,456.0 L723.2,453.3 L727.6,453.2Z" fill="none" stroke="#0000ff" stroke-width="0.95" stroke-linejoin="miter"/>
<rect x="521.2" y="492.2" width="14.7" height="14.7" fill="none" stroke="#000" stroke-width="1.3"/>
<rect x="545.4" y="494.6" width="14.7" height="14.7" fill="none" stroke="#000" stroke-width="1.3"/>
<path d="M325.5,497.6 L327.0,501.8 L331.4,501.9 L327.9,504.6 L329.1,508.8 L325.5,506.3 L321.9,508.8 L323.1,504.6 L319.6,501.9 L324.0,501.8Z" fill="none" stroke="#0000ff" stroke-width="0.95" stroke-linejoin="miter"/>
<path d="M401.3,510.8 L402.8,515.0 L407.2,515.1 L403.7,517.8 L404.9,522.0 L401.3,519.5 L397.7,522.0 L398.9,517.8 L395.4,515.1 L399.8,515.0Z" fill="none" stroke="#0000ff" stroke-width="0.95" stroke-linejoin="miter"/>
<path d="M436.5,475.4 L438.0,479.6 L442.4,479.7 L438.9,482.4 L440.1,486.6 L436.5,484.1 L432.9,486.6 L434.1,482.4 L430.6,479.7 L435.0,479.6Z" fill="none" stroke="#0000ff" stroke-width="0.95" stroke-linejoin="miter"/>
<path d="M449.9,544.5 L451.4,548.7 L455.8,548.8 L452.3,551.5 L453.5,555.7 L449.9,553.2 L446.3,555.7 L447.5,551.5 L444.0,548.8 L448.4,548.7Z" fill="none" stroke="#0000ff" stroke-width="0.95" stroke-linejoin="miter"/>
<path d="M487.7,509.8 L489.2,514.0 L493.6,514.1 L490.1,516.8 L491.3,521.0 L487.7,518.5 L484.1,521.0 L485.3,516.8 L481.8,514.1 L486.2,514.0Z" fill="none" stroke="#0000ff" stroke-width="0.95" stroke-linejoin="miter"/>
<path d="M504.6,464.1 L506.1,468.3 L510.5,468.4 L507.0,471.1 L508.2,475.3 L504.6,472.8 L501.0,475.3 L502.2,471.1 L498.7,468.4 L503.1,468.3Z" fill="none" stroke="#0000ff" stroke-width="0.95" stroke-linejoin="miter"/>
<path d="M571.4,447.6 L572.9,451.8 L577.3,451.9 L573.8,454.6 L575.0,458.8 L571.4,456.3 L567.8,458.8 L569.0,454.6 L565.5,451.9 L569.9,451.8Z" fill="none" stroke="#0000ff" stroke-width="0.95" stroke-linejoin="miter"/>
<path d="M531.6,495.8 L533.1,500.0 L537.5,500.1 L534.0,502.8 L535.2,507.0 L531.6,504.5 L528.0,507.0 L529.2,502.8 L525.7,500.1 L530.1,500.0Z" fill="none" stroke="#0000ff" stroke-width="0.95" stroke-linejoin="miter"/>
<path d="M545.5,498.1 L547.0,502.3 L551.4,502.4 L547.9,505.1 L549.1,509.3 L545.5,506.8 L541.9,509.3 L543.1,505.1 L539.6,502.4 L544.0,502.3Z" fill="none" stroke="#0000ff" stroke-width="0.95" stroke-linejoin="miter"/>
<path d="M539.3,514.6 L540.8,518.8 L545.2,518.9 L541.7,521.6 L542.9,525.8 L539.3,523.3 L535.7,525.8 L536.9,521.6 L533.4,518.9 L537.8,518.8Z" fill="none" stroke="#0000ff" stroke-width="0.95" stroke-linejoin="miter"/>
<path d="M522.0,515.7 H626.3 M522.0,510.5 V520.9 M626.3,510.5 V520.9" stroke="#000" stroke-width="1.6" fill="none"/>
<path d="M510.8,519.3 H552.2 M510.8,514.1 V524.5 M552.2,514.1 V524.5" stroke="#000" stroke-width="1.6" fill="none"/>
<rect x="569.0" y="510.7" width="10.0" height="10.0" fill="#00ffff" stroke="#000" stroke-width="1.5"/>
<rect x="526.6" y="514.3" width="10.0" height="10.0" fill="#ffd700" stroke="#000" stroke-width="1.5"/>
<path d="M527.0,493.8 H570.7 M527.0,489.6 V498.0 M570.7,489.6 V498.0" stroke="#000" stroke-width="2.5" fill="none"/>
<circle cx="549.0" cy="493.3" r="10.2" fill="#ff0000" stroke="#000" stroke-width="3.6"/>
<path d="M488.8,492.0 H554.7 M488.8,487.8 V496.2 M554.7,487.8 V496.2" stroke="#000" stroke-width="2.5" fill="none"/>
<path d="M521.2,475.2 V507.4 M515.2,475.2 H527.2 M515.2,507.4 H527.2" stroke="#000" stroke-width="2.5" fill="none"/>
<circle cx="521.2" cy="492.0" r="10.2" fill="#0000ff" stroke="#000" stroke-width="3.6"/>
</g>
<g opacity="0.999" text-rendering="geometricPrecision">
<text transform="matrix(0.3029 0 0 0.3926 68.47 142.31)" font-family="Liberation Serif, serif" font-size="100" font-weight="normal" stroke="#000" stroke-width="2.30" stroke-linejoin="round">1</text>
<text transform="matrix(0.4567 0 0 0.3926 88.15 142.31)" font-family="Liberation Serif, serif" font-size="100" font-weight="normal" stroke="#000" stroke-width="1.88" stroke-linejoin="round">2.5</text>
<text transform="matrix(0.2943 0 0 0.3926 103.75 82.11)" font-family="Liberation Serif, serif" font-size="100" font-weight="normal" stroke="#000" stroke-width="2.33" stroke-linejoin="round">1</text>
<text transform="matrix(0.4366 0 0 0.3926 123.32 82.11)" font-family="Liberation Serif, serif" font-size="100" font-weight="normal" stroke="#000" stroke-width="1.93" stroke-linejoin="round">3</text>
<text transform="matrix(0.3029 0 0 0.3926 68.47 21.91)" font-family="Liberation Serif, serif" font-size="100" font-weight="normal" stroke="#000" stroke-width="2.30" stroke-linejoin="round">1</text>
<text transform="matrix(0.4586 0 0 0.3926 87.91 21.91)" font-family="Liberation Serif, serif" font-size="100" font-weight="normal" stroke="#000" stroke-width="1.88" stroke-linejoin="round">3.5</text>
<text transform="matrix(0.3029 0 0 0.3926 68.47 383.31)" font-family="Liberation Serif, serif" font-size="100" font-weight="normal" stroke="#000" stroke-width="2.30" stroke-linejoin="round">1</text>
<text transform="matrix(0.4567 0 0 0.3926 88.15 383.31)" font-family="Liberation Serif, serif" font-size="100" font-weight="normal" stroke="#000" stroke-width="1.88" stroke-linejoin="round">2.5</text>
<text transform="matrix(0.2943 0 0 0.3926 103.75 323.11)" font-family="Liberation Serif, serif" font-size="100" font-weight="normal" stroke="#000" stroke-width="2.33" stroke-linejoin="round">1</text>
<text transform="matrix(0.4366 0 0 0.3926 123.32 323.11)" font-family="Liberation Serif, serif" font-size="100" font-weight="normal" stroke="#000" stroke-width="1.93" stroke-linejoin="round">3</text>
<text transform="matrix(0.3029 0 0 0.3926 68.47 262.91)" font-family="Liberation Serif, serif" font-size="100" font-weight="normal" stroke="#000" stroke-width="2.30" stroke-linejoin="round">1</text>
<text transform="matrix(0.4586 0 0 0.3926 87.91 262.91)" font-family="Liberation Serif, serif" font-size="100" font-weight="normal" stroke="#000" stroke-width="1.88" stroke-linejoin="round">3.5</text>
<text transform="matrix(0.2943 0 0 0.3926 103.75 202.71)" font-family="Liberation Serif, serif" font-size="100" font-weight="normal" stroke="#000" stroke-width="2.33" stroke-linejoin="round">1</text>
<text transform="matrix(0.4022 0 0 0.3926 123.90 202.71)" font-family="Liberation Serif, serif" font-size="100" font-weight="normal" stroke="#000" stroke-width="2.01" stroke-linejoin="round">4</text>
<text transform="matrix(0.3029 0 0 0.3926 68.47 623.81)" font-family="Liberation Serif, serif" font-size="100" font-weight="normal" stroke="#000" stroke-width="2.30" stroke-linejoin="round">1</text>
<text transform="matrix(0.4567 0 0 0.3926 88.15 623.81)" font-family="Liberation Serif, serif" font-size="100" font-weight="normal" stroke="#000" stroke-width="1.88" stroke-linejoin="round">2.5</text>
<text transform="matrix(0.2943 0 0 0.3926 103.75 563.61)" font-family="Liberation Serif, serif" font-size="100" font-weight="normal" stroke="#000" stroke-width="2.33" stroke-linejoin="round">1</text>
<text transform="matrix(0.4366 0 0 0.3926 123.32 563.61)" font-family="Liberation Serif, serif" font-size="100" font-weight="normal" stroke="#000" stroke-width="1.93" stroke-linejoin="round">3</text>
<text transform="matrix(0.3029 0 0 0.3926 68.47 503.41)" font-family="Liberation Serif, serif" font-size="100" font-weight="normal" stroke="#000" stroke-width="2.30" stroke-linejoin="round">1</text>
<text transform="matrix(0.4586 0 0 0.3926 87.91 503.41)" font-family="Liberation Serif, serif" font-size="100" font-weight="normal" stroke="#000" stroke-width="1.88" stroke-linejoin="round">3.5</text>
<text transform="matrix(0.2943 0 0 0.3926 103.75 443.21)" font-family="Liberation Serif, serif" font-size="100" font-weight="normal" stroke="#000" stroke-width="2.33" stroke-linejoin="round">1</text>
<text transform="matrix(0.4022 0 0 0.3926 123.90 443.21)" font-family="Liberation Serif, serif" font-size="100" font-weight="normal" stroke="#000" stroke-width="2.01" stroke-linejoin="round">4</text>
<text transform="matrix(0.3171 0 0 0.3926 130.55 657.71)" font-family="Liberation Serif, serif" font-size="100" font-weight="normal" stroke="#000" stroke-width="2.25" stroke-linejoin="round">1</text>
<text transform="matrix(0.4590 0 0 0.3926 150.76 657.71)" font-family="Liberation Serif, serif" font-size="100" font-weight="normal" stroke="#000" stroke-width="1.88" stroke-linejoin="round">0.5</text>
<text transform="matrix(0.3057 0 0 0.3926 361.95 657.71)" font-family="Liberation Serif, serif" font-size="100" font-weight="normal" stroke="#000" stroke-width="2.29" stroke-linejoin="round">1</text>
<text transform="matrix(0.3086 0 0 0.3926 385.62 657.71)" font-family="Liberation Serif, serif" font-size="100" font-weight="normal" stroke="#000" stroke-width="2.28" stroke-linejoin="round">1</text>
<text transform="matrix(0.3171 0 0 0.3926 558.15 657.71)" font-family="Liberation Serif, serif" font-size="100" font-weight="normal" stroke="#000" stroke-width="2.25" stroke-linejoin="round">1</text>
<text transform="matrix(0.3086 0 0 0.3926 582.32 657.71)" font-family="Liberation Serif, serif" font-size="100" font-weight="normal" stroke="#000" stroke-width="2.28" stroke-linejoin="round">1</text>
<text transform="matrix(0.4527 0 0 0.3926 602.16 657.71)" font-family="Liberation Serif, serif" font-size="100" font-weight="normal" stroke="#000" stroke-width="1.89" stroke-linejoin="round">.5</text>
<text transform="matrix(0.3029 0 0 0.3926 790.07 657.71)" font-family="Liberation Serif, serif" font-size="100" font-weight="normal" stroke="#000" stroke-width="2.30" stroke-linejoin="round">1</text>
<text transform="matrix(0.4450 0 0 0.3926 809.80 657.71)" font-family="Liberation Serif, serif" font-size="100" font-weight="normal" stroke="#000" stroke-width="1.91" stroke-linejoin="round">2</text>
<text transform="matrix(0.2950 0 0 0.3087 569.36 107.75)" font-family="Liberation Serif, serif" font-size="100" font-weight="bold" stroke="#000" stroke-width="0.99" stroke-linejoin="round">z</text>
<path d="M589,96.3 H605.8 M589,101.1 H605.8" stroke="#000" stroke-width="2.3"/>
<path d="M620.3,84.3 H613.6 V114.0 H620.3" fill="none" stroke="#000" stroke-width="2.7"/>
<text transform="matrix(0.3790 0 0 0.2993 623.48 107.60)" font-family="Liberation Serif, serif" font-size="100" font-weight="normal" stroke="#000" stroke-width="1.77" stroke-linejoin="round">0.74,1.00</text>
<path d="M769.0,84.3 H776.0 V114.0 H769.0" fill="none" stroke="#000" stroke-width="2.7"/>
<text transform="matrix(0.2950 0 0 0.3087 569.36 348.75)" font-family="Liberation Serif, serif" font-size="100" font-weight="bold" stroke="#000" stroke-width="0.99" stroke-linejoin="round">z</text>
<path d="M589,337.3 H605.8 M589,342.1 H605.8" stroke="#000" stroke-width="2.3"/>
<path d="M620.3,325.4 H613.6 V354.9 H620.3" fill="none" stroke="#000" stroke-width="2.7"/>
<text transform="matrix(0.3765 0 0 0.2993 623.49 348.60)" font-family="Liberation Serif, serif" font-size="100" font-weight="normal" stroke="#000" stroke-width="1.78" stroke-linejoin="round">0.48,0.74</text>
<path d="M769.0,325.4 H776.0 V354.9 H769.0" fill="none" stroke="#000" stroke-width="2.7"/>
<text transform="matrix(0.2950 0 0 0.3087 569.36 589.25)" font-family="Liberation Serif, serif" font-size="100" font-weight="bold" stroke="#000" stroke-width="0.99" stroke-linejoin="round">z</text>
<path d="M589,577.8 H605.8 M589,582.6 H605.8" stroke="#000" stroke-width="2.3"/>
<path d="M620.3,565.9 H613.6 V595.4 H620.3" fill="none" stroke="#000" stroke-width="2.7"/>
<text transform="matrix(0.3790 0 0 0.2993 623.48 589.10)" font-family="Liberation Serif, serif" font-size="100" font-weight="normal" stroke="#000" stroke-width="1.77" stroke-linejoin="round">0.22,0.48</text>
<path d="M769.0,565.9 H776.0 V595.4 H769.0" fill="none" stroke="#000" stroke-width="2.7"/>
<text transform="matrix(0.2252 0 0 0.1978 189.91 69.73)" font-family="Liberation Serif, serif" font-size="100" font-weight="normal" stroke="#000" stroke-width="1.65" stroke-linejoin="round">SF</text>
<text transform="matrix(0.2463 0 0 0.1978 226.74 69.73)" font-family="Liberation Serif, serif" font-size="100" font-weight="normal" stroke="#000" stroke-width="1.58" stroke-linejoin="round" letter-spacing="6.00">fraction:</text>
<text transform="matrix(0.3877 0 0 0.3052 199.98 108.19)" font-family="Liberation Serif, serif" font-size="100" font-weight="normal" stroke="#000" stroke-width="1.73" stroke-linejoin="round">7</text>
<path d="M230.5,113.4 L246.8,84.6" stroke="#000" stroke-width="2.6" stroke-linecap="round"/>
<text transform="matrix(0.3825 0 0 0.3052 248.78 108.19)" font-family="Liberation Serif, serif" font-size="100" font-weight="normal" stroke="#000" stroke-width="1.74" stroke-linejoin="round">29</text>
<text transform="matrix(0.3694 0 0 0.3052 200.84 349.19)" font-family="Liberation Serif, serif" font-size="100" font-weight="normal" stroke="#000" stroke-width="1.78" stroke-linejoin="round">6</text>
<path d="M230.5,354.4 L246.8,325.6" stroke="#000" stroke-width="2.6" stroke-linecap="round"/>
<text transform="matrix(0.3911 0 0 0.3052 248.54 349.19)" font-family="Liberation Serif, serif" font-size="100" font-weight="normal" stroke="#000" stroke-width="1.72" stroke-linejoin="round">32</text>
<text transform="matrix(0.3649 0 0 0.3052 193.62 589.69)" font-family="Liberation Serif, serif" font-size="100" font-weight="normal" stroke="#000" stroke-width="1.79" stroke-linejoin="round">12</text>
<path d="M230.5,594.9 L246.8,566.1" stroke="#000" stroke-width="2.6" stroke-linecap="round"/>
<text transform="matrix(0.3787 0 0 0.3052 249.14 589.69)" font-family="Liberation Serif, serif" font-size="100" font-weight="normal" stroke="#000" stroke-width="1.75" stroke-linejoin="round">40</text>
<text transform="matrix(0.2833 0 0 0.3727 366.53 708.40)" font-family="Liberation Serif, serif" font-size="100" font-weight="normal" stroke="#000" stroke-width="2.44" stroke-linejoin="round">l</text>
<text transform="matrix(0.4524 0 0 0.3727 377.49 708.40)" font-family="Liberation Serif, serif" font-size="100" font-weight="normal" stroke="#000" stroke-width="1.94" stroke-linejoin="round">o</text>
<text transform="matrix(0.4253 0 0 0.3727 399.79 708.40)" font-family="Liberation Serif, serif" font-size="100" font-weight="normal" stroke="#000" stroke-width="2.01" stroke-linejoin="round">g</text>
<text transform="matrix(0.3048 0 0 0.3878 442.89 708.30)" font-family="Liberation Serif, serif" font-size="100" font-weight="normal" stroke="#000" stroke-width="2.31" stroke-linejoin="round">M</text>
<text transform="matrix(0.2688 0 0 0.2333 470.68 717.72)" font-family="Liberation Serif, serif" font-size="100" font-weight="bold" stroke="#000" stroke-width="1.19" stroke-linejoin="round">gal</text>
<path d="M508.6,714.6 L528.4,678.8" stroke="#000" stroke-width="2.6" stroke-linecap="round"/>
<path d="M544.7,678.6 H536.8 V714.9 H544.7" fill="none" stroke="#000" stroke-width="2.6"/>
<text transform="matrix(0.2916 0 0 0.3863 550.03 708.20)" font-family="Liberation Serif, serif" font-size="100" font-weight="normal" stroke="#000" stroke-width="2.36" stroke-linejoin="round">M</text>
<circle cx="587.1" cy="711.4" r="7.6" fill="none" stroke="#000" stroke-width="2.1"/><circle cx="587.1" cy="711.4" r="2" fill="#000"/>
<path d="M600.5,678.6 H608.5 V714.9 H600.5" fill="none" stroke="#000" stroke-width="2.6"/>
<g transform="translate(0,304.2) rotate(-90)">
<text transform="matrix(0.2500 0 0 0.3036 0.20 25.90)" font-family="Liberation Serif, serif" font-size="100" font-weight="normal" stroke="#000" stroke-width="5.06" stroke-linejoin="round">l</text>
<text transform="matrix(0.3405 0 0 0.3036 10.94 25.90)" font-family="Liberation Serif, serif" font-size="100" font-weight="normal" stroke="#000" stroke-width="4.35" stroke-linejoin="round">o</text>
<text transform="matrix(0.3310 0 0 0.3036 28.11 25.90)" font-family="Liberation Serif, serif" font-size="100" font-weight="normal" stroke="#000" stroke-width="4.41" stroke-linejoin="round">g</text>
<text transform="matrix(0.2229 0 0 0.3206 63.73 25.80)" font-family="Liberation Serif, serif" font-size="100" font-weight="normal" stroke="#000" stroke-width="5.15" stroke-linejoin="round">M</text>
<text transform="matrix(0.2164 0 0 0.2292 85.76 35.27)" font-family="Liberation Serif, serif" font-size="100" font-weight="bold" stroke="#000" stroke-width="1.80" stroke-linejoin="round">halo</text>
<path d="M129.6,31.6 L144.9,2.7" stroke="#000" stroke-width="2.9" stroke-linecap="round"/>
<path d="M157.5,2.2 H152.4 V31.7 H157.5" fill="none" stroke="#000" stroke-width="2.9"/>
<text transform="matrix(0.2229 0 0 0.3206 163.73 25.80)" font-family="Liberation Serif, serif" font-size="100" font-weight="normal" stroke="#000" stroke-width="5.15" stroke-linejoin="round">M</text>
<circle cx="192.7" cy="28.5" r="6" fill="none" stroke="#000" stroke-width="1.9"/><circle cx="192.7" cy="28.5" r="1.7" fill="#000"/>
<path d="M204.7,2.2 H209.9 V31.7 H204.7" fill="none" stroke="#000" stroke-width="2.9"/>
</g>
</g>
</svg>
</body></html>
